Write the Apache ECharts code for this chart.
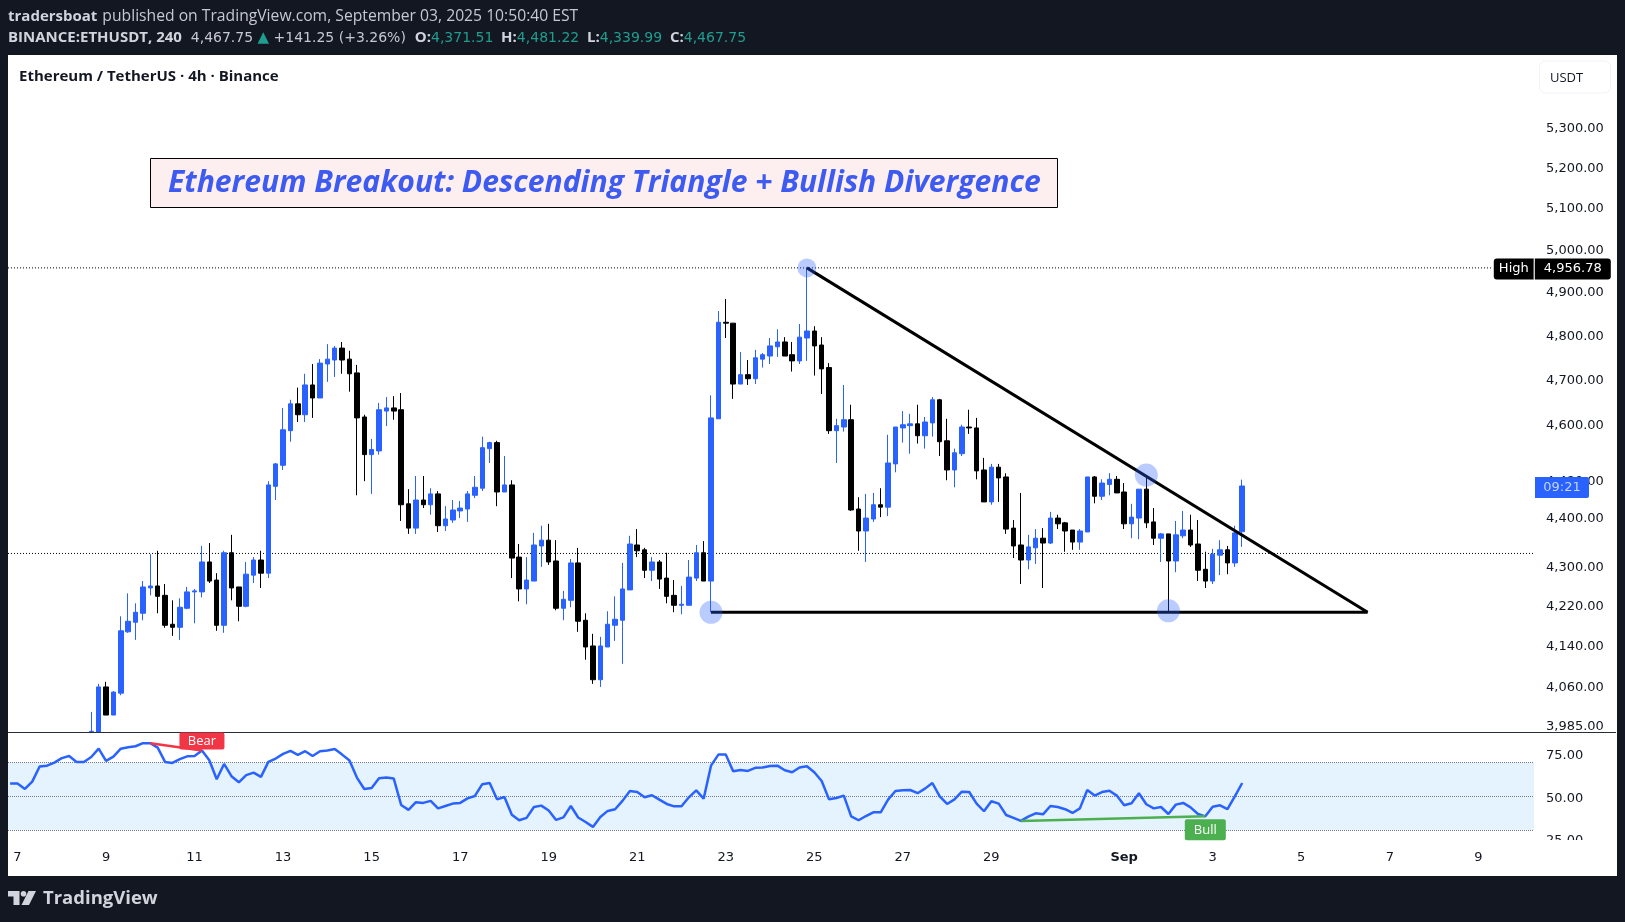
<!DOCTYPE html>
<html>
<head>
<meta charset="utf-8">
<style>html,body{margin:0;padding:0;background:#131722}#chart{width:1625px;height:922px}</style>
<script src="https://cdn.jsdelivr.net/npm/echarts@6/dist/echarts.min.js"></script>
</head>
<body>
<div id="chart"></div>
<script>
// 4h candles, x unit is the bar number (bar 0 = Aug 7 00:00), first candle is bar 10, rows of ten
// the first two candles start under the bottom of the pane, so their hidden part sits at the axis floor
const firstCandleBar = 10
const opens = [
  3974,3974,4060,4006,4048,4168,4187,4205,4256,4260,
  4241,4183,4177,4215,4248,4248,4309,4272,4181,4328,
  4258,4219,4282,4313,4286,4467,4512,4587,4646,4622,
  4688,4659,4735,4744,4771,4746,4715,4617,4535,4543,
  4630,4637,4633,4430,4379,4438,4428,4451,4384,4396,
  4415,4419,4448,4463,4548,4561,4455,4470,4319,4254,
  4270,4342,4354,4311,4215,4231,4307,4191,4140,4074,
  4138,4181,4191,4252,4344,4334,4292,4309,4276,4241,
  4221,4221,4276,4328,4270,4613,4830,4828,4690,4711,
  4702,4746,4753,4774,4785,4756,4742,4794,4810,4778,
  4727,4587,4595,4611,4419,4373,4398,4428,4423,4515,
  4593,4598,4602,4576,4604,4655,4565,4502,4537,4595,
  4593,4502,4434,4508,4487,4379,4344,4313,4338,4358,
  4348,4400,4390,4375,4350,4371,4487,4446,4471,4482,
  4455,4388,4400,4461,4392,4358,4367,4311,4363,4375,
  4346,4294,4270,4323,4334,4307,4371.51
]
const closes = [
  3975,4060,4006,4050,4170,4189,4207,4258,4260,4239,
  4181,4177,4217,4248,4250,4309,4270,4181,4328,4256,
  4219,4284,4313,4286,4470,4515,4589,4646,4622,4688,
  4659,4737,4746,4771,4744,4713,4615,4535,4546,4633,
  4637,4630,4428,4379,4438,4428,4451,4384,4398,4417,
  4421,4451,4465,4550,4561,4455,4470,4317,4254,4272,
  4344,4354,4309,4215,4233,4307,4189,4138,4074,4140,
  4183,4193,4254,4346,4332,4292,4309,4274,4239,4221,
  4223,4278,4328,4270,4615,4830,4828,4690,4711,4702,
  4749,4756,4776,4785,4753,4742,4796,4810,4776,4724,
  4587,4598,4611,4417,4373,4400,4428,4423,4517,4595,
  4600,4602,4576,4606,4655,4563,4502,4539,4595,4593,
  4500,4434,4508,4485,4377,4342,4313,4340,4358,4348,
  4400,4388,4373,4350,4373,4487,4446,4474,4482,4453,
  4388,4402,4461,4390,4358,4367,4311,4365,4375,4344,
  4292,4270,4325,4334,4307,4369,4467.75
]
const lows = [
  3974,3974,4006,4006,4044,4166,4152,4191,4241,4205,
  4176,4160,4152,4213,4185,4237,4266,4170,4166,4231,
  4189,4217,4266,4256,4276,4438,4502,4563,4606,4606,
  4615,4659,4695,4706,4713,4673,4448,4478,4451,4535,
  4597,4611,4394,4367,4367,4421,4407,4371,4373,4390,
  4400,4392,4442,4457,4517,4425,4455,4276,4229,4223,
  4270,4299,4303,4211,4191,4217,4168,4113,4066,4060,
  4138,4150,4105,4252,4319,4276,4270,4254,4225,4207,
  4203,4221,4270,4270,4207,4613,4794,4657,4690,4688,
  4690,4727,4735,4751,4753,4718,4735,4742,4709,4668,
  4580,4517,4585,4415,4332,4309,4392,4402,4404,4497,
  4561,4537,4559,4548,4574,4532,4480,4465,4532,4580,
  4482,4434,4428,4434,4367,4317,4264,4294,4305,4256,
  4346,4377,4330,4334,4334,4371,4431,4438,4448,4453,
  4377,4358,4356,4379,4344,4309,4209,4288,4358,4340,
  4270,4256,4264,4282,4284,4299,4339.99
]
const highs = [
  4012,4066,4070,4052,4199,4245,4225,4270,4325,4332,
  4264,4231,4235,4258,4254,4342,4348,4286,4332,4365,
  4258,4309,4319,4332,4478,4517,4637,4655,4682,4713,
  4735,4746,4780,4776,4785,4765,4733,4622,4569,4648,
  4661,4663,4670,4461,4489,4489,4463,4457,4425,4438,
  4436,4457,4489,4574,4563,4565,4532,4480,4346,4319,
  4369,4384,4388,4354,4250,4315,4338,4205,4164,4158,
  4209,4239,4307,4363,4377,4338,4319,4313,4328,4272,
  4260,4313,4344,4352,4665,4856,4884,4828,4762,4744,
  4767,4760,4794,4814,4796,4785,4826,4956.78,4821,4796,
  4737,4613,4688,4644,4444,4451,4453,4463,4578,4595,
  4630,4624,4644,4617,4661,4657,4613,4548,4600,4633,
  4615,4528,4515,4515,4495,4396,4453,4365,4377,4379,
  4413,4407,4392,4375,4377,4487,4489,4482,4495,4489,
  4474,4430,4461,4489,4421,4369,4367,4394,4415,4407,
  4396,4330,4336,4354,4342,4384,4481.22
]

// RSI, first value is bar -1
const firstRsiBar = -1
const rsiValues = [
  57.5,57.5,54.3,58.6,67.5,68,69.8,72.4,73.7,70.2,
  70.2,73.1,78,70.8,73.3,78,78.8,79.4,81.2,81.2,
  78.6,70.2,69.6,71.8,73.5,73.7,76.9,71.2,60,69,
  61.8,58.2,62.4,63.9,61.4,70.2,72.2,74.9,76.7,74.3,
  76.5,73.7,76.5,76.9,77.8,74.5,71,61,54.3,54.9,
  60.6,61,60.4,44.9,42,46.5,46.1,47.3,42.9,44.3,
  45.7,46.1,48.8,50.2,57.1,57.8,48.2,49.6,39.2,35.9,
  37.3,43.7,44.5,41.6,36.1,37.6,44.3,37.5,34.9,32,
  37.8,41.4,42.4,47.3,53.1,52.5,49.4,50.6,48,45.5,
  44.1,44.1,49.4,53.5,48.6,68,74.5,74.5,64.7,65.5,
  64.9,66.7,66.9,67.8,68,65.3,64.1,66.9,67.6,64.1,
  59,48.2,49,50.4,38.2,35.9,38.4,40.6,40.6,48,
  53.1,53.5,53.7,51.8,54.5,57.8,50,45.5,48.2,52.7,
  52.5,45.7,41.2,47.1,45.7,39,37.3,35.5,38,40,
  39.4,44.3,43.7,42.4,40.2,42.9,53.7,50.4,52.5,53.3,
  50.4,44.7,45.9,51.8,45.3,42.9,43.7,39.6,45.1,46.1,
  43.5,39.6,38.2,43.9,44.7,42.5,50,57.8
]

// axis ticks
const priceTicks = [5300,5200,5100,5000,4900,4800,4700,4600,4480,4400,4300,4220,4140,4060,3985]
const rsiTicks = [75,50,25]
const dayTickBars = [0,12,24,36,48,60,72,84,96,108,120,132,150,162,174,186,198]
const dayTickNames = ['7','9','11','13','15','17','19','21','23','25','27','29','{s|Sep}','3','5','7','9']

// drawings: [bar, price]
const fallingLine = [[107,4956.78],[183,4207]]
const supportLine = [[94,4207],[183,4207]]
const touchPoints = [[94,4207,23],[107,4956.78,19],[153,4491,23],[156,4210,23]]
const bearLine = [[18,81.2],[25,76.9]]
const bullLine = [[136,35.5],[161,38.2]]
const highPrice = 4956.78
const prevClose = 4326.5
const lastClose = 4467.75

const BLUE = '#2962ff'
const xMin = -1.2876
const xMax = 205.55

const candleData = opens.map((o, k) => [firstCandleBar + k, o, closes[k], lows[k], highs[k]])
const rsiData = rsiValues.map((v, k) => [firstRsiBar + k, v])
const fmtPrice = (v) => Number(v).toLocaleString('en-US', { minimumFractionDigits: 2, maximumFractionDigits: 2 })

const axisFont = { fontFamily: 'DejaVu Sans', fontSize: 13, color: '#131722' }
const hdr = { fontFamily: 'Open Sans', fontSize: 15, fontWeight: 'normal', color: '#c5c8d1' }
const num = { fontFamily: 'DejaVu Sans', fontSize: 14, fontWeight: 'normal', color: '#c5c8d1' }
const teal = Object.assign({}, num, { color: '#1f9e8f' })
const tri = { fontFamily: 'DejaVu Sans', fontSize: 15, fontWeight: 'normal', color: '#1f9e8f' }
const bold = Object.assign({}, hdr, { fontWeight: 'bold', color: '#d1d4dc' })
const dottedBlack = { type: [1, 2], color: '#000', width: 1 }

const chart = echarts.init(document.getElementById('chart'), null, { renderer: 'canvas' })
chart.setOption({
  animation: false,
  backgroundColor: '#131722',
  title: [
    {
      left: 8, top: 8, padding: 0,
      text: '{b|tradersboat} {n|published on TradingView.com, September 03, 2025 10:50:40 EST}',
      textStyle: { rich: { b: bold, n: Object.assign({}, hdr, { fontSize: 15.7 }) } }
    },
    {
      left: 8, top: 30.5, padding: 0,
      text: '{b|BINANCE:ETHUSDT, 240}{d|  4,467.75 }{u|▲}{d| +141.25 (+3.26%)  }{b|O:}{t|4,371.51}{n|  }{b|H:}{t|4,481.22}{n|  }{b|L:}{t|4,339.99}{n|  }{b|C:}{t|4,467.75}',
      textStyle: { rich: { b: bold, n: hdr, d: num, t: teal, u: tri } }
    },
    {
      left: 19, top: 69.5, padding: 0,
      text: 'Ethereum / TetherUS · 4h · Binance',
      textStyle: { fontFamily: 'Open Sans', fontSize: 15, fontWeight: 'bold', color: '#131722' }
    },
    {
      left: 150, top: 158,
      padding: [10, 17, 10, 18],
      backgroundColor: '#fdeeef', borderColor: '#000', borderWidth: 1,
      text: 'Ethereum Breakout: Descending Triangle + Bullish Divergence',
      textStyle: { fontFamily: 'Open Sans', fontSize: 30.1, fontWeight: 'bold', fontStyle: 'italic', color: '#3d5af1' }
    }
  ],
  grid: [
    { left: 8, width: 1526, top: 55, height: 677 },
    { left: 8, width: 1526, top: 733, height: 107 }
  ],
  xAxis: [
    { type: 'value', gridIndex: 0, min: xMin, max: xMax, axisLine: { show: false }, axisTick: { show: false }, axisLabel: { show: false }, splitLine: { show: false } },
    {
      type: 'value', gridIndex: 1, min: xMin, max: xMax, z: 4,
      axisLine: { show: false }, axisTick: { show: false }, splitLine: { show: false },
      axisLabel: {
        margin: 11,
        customValues: dayTickBars,
        formatter: (v) => dayTickNames[dayTickBars.indexOf(v)],
        fontFamily: axisFont.fontFamily, fontSize: axisFont.fontSize, color: axisFont.color,
        rich: { s: Object.assign({}, axisFont, { fontWeight: 'bold' }) }
      }
    }
  ],
  yAxis: [
    {
      type: 'log', logBase: Math.E, gridIndex: 0, position: 'right', min: 3973.8, max: 5485.7,
      axisLine: { show: false }, axisTick: { show: false }, splitLine: { show: false }, minorSplitLine: { show: false },
      axisLabel: {
        margin: 12, align: 'left',
        customValues: priceTicks,
        formatter: (v) => '{a|' + fmtPrice(v) + '}',
        rich: { a: Object.assign({}, axisFont, { padding: [2, 0, 0, 0] }) }
      }
    },
    {
      type: 'value', gridIndex: 1, position: 'right', min: 24.3, max: 87.2,
      axisLine: { show: false }, axisTick: { show: false }, splitLine: { show: false },
      axisLabel: {
        margin: 12, align: 'left',
        customValues: rsiTicks,
        formatter: (v) => '{a|' + Number(v).toFixed(2) + '}',
        rich: { a: Object.assign({}, axisFont, { padding: [4, 0, 0, 0] }) }
      }
    }
  ],
  graphic: [
    { type: 'rect', z: -1, silent: true, shape: { x: 8, y: 55, width: 1609, height: 821 }, style: { fill: '#fff' } },
    { type: 'rect', z: 3, silent: true, shape: { x: 1535, y: 840, width: 82, height: 36 }, style: { fill: '#fff' } },
    { type: 'line', z: 3, silent: true, shape: { x1: 8, y1: 732.5, x2: 1616, y2: 732.5 }, style: { stroke: '#2a2e39', lineWidth: 1 } },
    // USDT button
    {
      type: 'rect', z: 3, silent: true, shape: { x: 1539.5, y: 61, width: 71, height: 32, r: 6 },
      style: { fill: '#fff', stroke: '#f0f3fa', lineWidth: 1 }
    },
    { type: 'text', z: 4, silent: true, x: 1550, y: 71.5, style: { text: 'USDT', fill: '#131722', font: '13px "Open Sans"' } },
    // TradingView logo
    { type: 'polygon', silent: true, shape: { points: [[8, 891], [19.5, 891], [19.5, 905], [13.5, 905], [13.5, 896.5], [8, 896.5]] }, style: { fill: '#d1d4dc' } },
    { type: 'circle', silent: true, shape: { cx: 23.5, cy: 893.8, r: 2.8 }, style: { fill: '#d1d4dc' } },
    { type: 'polygon', silent: true, shape: { points: [[28.5, 891], [36, 891], [29, 905], [21.5, 905]] }, style: { fill: '#d1d4dc' } },
    { type: 'text', silent: true, x: 43, y: 889.5, style: { text: 'TradingView', fill: '#d1d4dc', font: 'bold 18.5px "Open Sans"' } }
  ],
  series: [
    {
      type: 'line', xAxisIndex: 0, yAxisIndex: 0, z: 1, symbol: 'none', silent: true,
      data: [[xMin, prevClose], [xMax, prevClose]],
      lineStyle: dottedBlack
    },
    {
      type: 'line', xAxisIndex: 0, yAxisIndex: 0, z: 1, symbol: 'none', silent: true,
      data: [[xMin, highPrice], [200, highPrice]],
      lineStyle: dottedBlack
    },
    {
      type: 'candlestick', xAxisIndex: 0, yAxisIndex: 0, z: 2,
      barWidth: 5,
      encode: { x: 0, y: [1, 2, 3, 4] },
      data: candleData,
      itemStyle: { color: BLUE, color0: '#000', borderColor: BLUE, borderColor0: '#000', borderWidth: 1 }
    },
    {
      type: 'line', xAxisIndex: 0, yAxisIndex: 0, z: 3, symbol: 'none', silent: true,
      data: fallingLine, lineStyle: { color: '#000', width: 3 }
    },
    {
      type: 'line', xAxisIndex: 0, yAxisIndex: 0, z: 3, symbol: 'none', silent: true,
      data: supportLine, lineStyle: { color: '#000', width: 3 }
    },
    {
      type: 'scatter', xAxisIndex: 0, yAxisIndex: 0, z: 4, silent: true,
      data: touchPoints.map(p => ({ value: [p[0], p[1]], symbolSize: p[2] })),
      itemStyle: { color: 'rgba(41,98,255,0.33)', opacity: 1 }
    },
    // price tags on the axis
    {
      type: 'scatter', xAxisIndex: 0, yAxisIndex: 0, z: 5, silent: true, clip: false, symbolSize: 0,
      itemStyle: { opacity: 1 },
      data: [[200.1, highPrice]],
      label: {
        show: true, position: 'right', distance: 0, offset: [0, 1],
        formatter: () => '{h|High}{g|}{v|' + fmtPrice(highPrice) + '}',
        rich: {
          h: { backgroundColor: '#000', color: '#fff', fontFamily: 'DejaVu Sans', fontSize: 13, width: 40, height: 21, align: 'center', borderRadius: [3, 0, 0, 3] },
          g: { backgroundColor: '#fff', width: 1, height: 21 },
          v: { backgroundColor: '#000', color: '#fff', fontFamily: 'DejaVu Sans', fontSize: 13, width: 76, height: 21, align: 'center', borderRadius: [0, 3, 3, 0] }
        }
      }
    },
    {
      type: 'scatter', xAxisIndex: 0, yAxisIndex: 0, z: 5, silent: true, clip: false, symbolSize: 0,
      itemStyle: { opacity: 1 },
      data: [[xMax, lastClose]],
      label: {
        show: true, position: 'right', distance: 1, offset: [0, 1.5],
        formatter: '{c|09:21}',
        rich: {
          c: { backgroundColor: BLUE, color: '#c3d4ff', fontFamily: 'DejaVu Sans', fontSize: 13, width: 54, height: 21, align: 'center', borderRadius: [0, 2, 2, 0] }
        }
      }
    },
    // RSI pane
    {
      type: 'line', xAxisIndex: 1, yAxisIndex: 1, z: 3, symbol: 'none', silent: true,
      data: rsiData,
      lineStyle: { color: BLUE, width: 2.5 },
      markArea: {
        silent: true, z: 1,
        itemStyle: { color: '#e5f3fe' },
        data: [[{ yAxis: 70 }, { yAxis: 30 }]]
      },
      markLine: {
        silent: true, symbol: 'none', z: 1,
        label: { show: false },
        lineStyle: { type: 'dotted', color: '#787b86', width: 1 },
        data: [{ yAxis: 70 }, { yAxis: 50 }, { yAxis: 30 }]
      }
    },
    {
      type: 'line', xAxisIndex: 1, yAxisIndex: 1, z: 4, symbol: 'none', silent: true,
      data: bearLine, lineStyle: { color: '#f23645', width: 2.5 }
    },
    {
      type: 'line', xAxisIndex: 1, yAxisIndex: 1, z: 4, symbol: 'none', silent: true,
      data: bullLine, lineStyle: { color: '#4caf50', width: 2.5 }
    },
    {
      type: 'scatter', xAxisIndex: 1, yAxisIndex: 1, z: 5, silent: true, clip: false, symbolSize: 0,
      itemStyle: { opacity: 1 },
      data: [bearLine[1]],
      label: {
        show: true, position: 'top', distance: 1, formatter: 'Bear',
        backgroundColor: '#f23645', color: '#fff', fontFamily: 'Open Sans', fontSize: 13,
        width: 45, height: 17, lineHeight: 17, align: 'center', borderRadius: 2
      }
    },
    {
      type: 'scatter', xAxisIndex: 1, yAxisIndex: 1, z: 5, silent: true, clip: false, symbolSize: 0,
      itemStyle: { opacity: 1 },
      data: [bullLine[1]],
      label: {
        show: true, position: 'bottom', distance: 3, formatter: 'Bull',
        backgroundColor: '#4caf50', color: '#fff', fontFamily: 'Open Sans', fontSize: 13,
        width: 41, height: 21, lineHeight: 21, align: 'center', borderRadius: 2
      }
    }
  ]
})
</script>
</body>
</html>
